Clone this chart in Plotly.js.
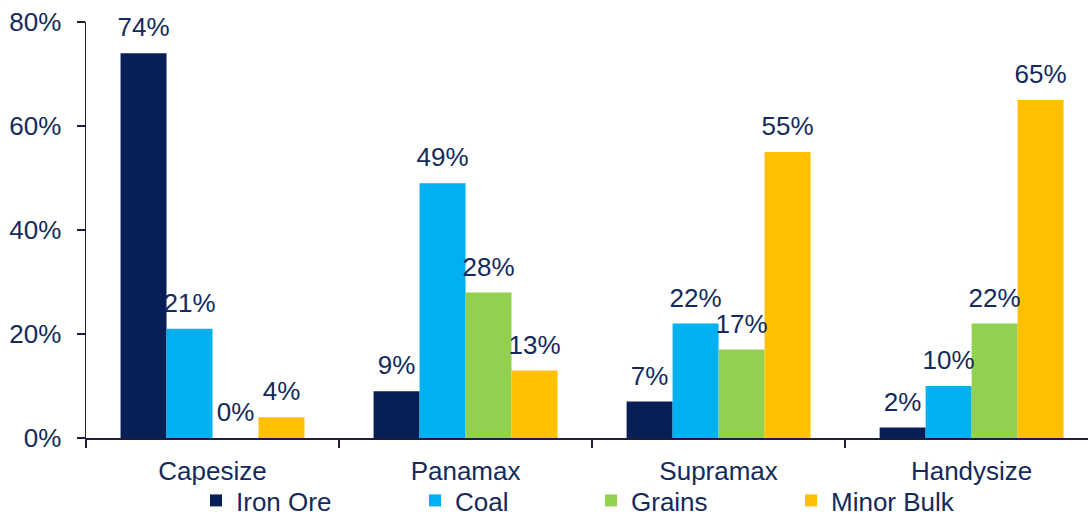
<!DOCTYPE html>
<html>
<head>
<meta charset="utf-8">
<script src="https://cdn.plot.ly/plotly-3.0.1.min.js"></script>
<style>html,body{margin:0;padding:0;background:#fff;}#chart{width:1092px;height:524px;}</style>
</head>
<body>
<div id="chart"></div>
<script>
const categories = ["Capesize", "Panamax", "Supramax", "Handysize"];
const seriesNames = ["Iron Ore", "Coal", "Grains", "Minor Bulk"];
const ironOre = [74, 9, 7, 2];
const coal = [21, 49, 22, 10];
const grains = [0, 28, 17, 22];
const minorBulk = [4, 13, 55, 65];
const yTickVals = [0, 20, 40, 60, 80];
const yTickText = ["0%", "20%", "40%", "60%", "80%"];

const values = [ironOre, coal, grains, minorBulk];
const colors = ["#071f56", "#00b0f0", "#92d050", "#ffc000"];
const textColor = "#142a5c";
const fontFamily = "Liberation Sans, Arial, sans-serif";
const legendIds = ["legend", "legend2", "legend3", "legend4"];
const legendX = [196, 415, 591, 791];

const traces = [];
values.forEach((v, i) => {
  traces.push({
    type: "bar", x: categories, y: v, name: seriesNames[i],
    marker: {color: colors[i], line: {width: 0}},
    legend: legendIds[i], hoverinfo: "skip"
  });
});
values.forEach((v, i) => {
  traces.push({
    type: "scatter", mode: "markers+text", x: categories, y: v,
    text: v.map(d => d + "%"), textposition: "top center",
    textfont: {size: 26, color: textColor, family: fontFamily},
    marker: {size: 15, opacity: 0}, showlegend: false, cliponaxis: false,
    hoverinfo: "skip"
  });
});

const layout = {
  width: 1092, height: 524,
  margin: {l: 86, r: 4, t: 22, b: 86, autoexpand: false},
  paper_bgcolor: "#fff", plot_bgcolor: "#fff",
  font: {family: fontFamily, size: 26, color: textColor},
  barmode: "group", bargap: 0.273, bargroupgap: 0,
  scattermode: "group", scattergap: 0.273,
  xaxis: {
    type: "category", range: [-0.5, 3.46],
    showline: true, linecolor: "#1e1e3c", linewidth: 1.5,
    ticks: "outside", tickson: "boundaries", ticklen: 8, tickcolor: "#1e1e3c", tickwidth: 1.5,
    ticklabelstandoff: 9,
    tickfont: {size: 26, color: textColor}, showgrid: false, zeroline: false
  },
  yaxis: {
    range: [0, 80], tickvals: yTickVals, ticktext: yTickText,
    showline: true, linecolor: "#1e1e3c", linewidth: 1.5,
    ticks: "outside", ticklen: 8, tickcolor: "#1e1e3c", tickwidth: 1.5,
    ticklabelstandoff: 10,
    tickfont: {size: 26, color: textColor}, showgrid: false, zeroline: false
  },
  showlegend: true
};
legendIds.forEach((id, i) => {
  layout[id] = {
    orientation: "h", xref: "container", yref: "container",
    x: legendX[i] / 1092, xanchor: "left", y: -0.014, yanchor: "bottom",
    font: {size: 26, color: textColor, family: fontFamily},
    bgcolor: "rgba(0,0,0,0)", borderwidth: 0
  };
});

Plotly.newPlot("chart", traces, layout, {displayModeBar: false, staticPlot: true});
</script>
</body>
</html>
